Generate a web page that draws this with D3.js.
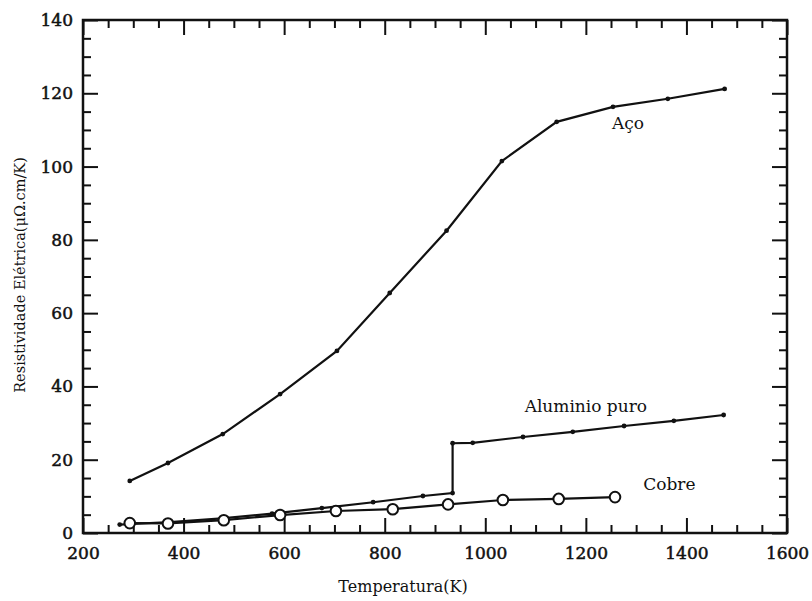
<!DOCTYPE html>
<html><head><meta charset="utf-8">
<script src="https://cdn.jsdelivr.net/npm/d3@7"></script>
<style>body{margin:0;background:#fff}svg{display:block}text{font-family:"DejaVu Serif",serif;fill:#111}</style>
</head><body><svg id="c" width="812" height="601"></svg>
<script>
const xMajor = [200,400,600,800,1000,1200,1400,1600];
const yMajor = [0,20,40,60,80,100,120,140];
const xLabel = "Temperatura(K)";
const yLabel = "Resistividade Elétrica(μΩ.cm/K)";
const acoT = [293,369,478,592,705,810,923,1033,1142,1254,1363,1476];
const acoR = [14.2,19.1,27.0,37.9,49.7,65.5,82.5,101.5,112.2,116.3,118.5,121.2];
const aluT = [273,373,476,576,675,777,876,935,935,975,1075,1174,1276,1375,1474];
const aluR = [2.3,3.0,4.0,5.3,6.8,8.4,10.1,10.9,24.5,24.6,26.2,27.6,29.2,30.6,32.2];
const cobT = [293,369,480,592,703,816,926,1035,1146,1258];
const cobR = [2.7,2.6,3.5,4.9,6.0,6.5,7.8,9.0,9.3,9.8];
const labels = [
  {text:"Aço", t:1284, r:110.2},
  {text:"Aluminio puro", t:1200, r:33.0},
  {text:"Cobre", t:1366, r:11.6}
];

const W=812,H=601,m={l:83,t:20,r:25,b:68};
const svg=d3.select("#c");
const x=d3.scaleLinear().domain([200,1600]).range([m.l,W-m.r]);
const y=d3.scaleLinear().domain([0,140]).range([H-m.b,m.t]);
const xMinor=d3.range(200,1601,50).filter(v=>v%200!==0);
const yMinor=d3.range(0,141,5).filter(v=>v%20!==0);
const bot=H-m.b, rt=W-m.r;

function ax(g, gen){ g.call(gen); g.select(".domain").remove(); g.selectAll("line").attr("stroke","#111").attr("stroke-width",2); }
ax(svg.append("g").attr("transform",`translate(0,${bot})`), d3.axisBottom(x).tickValues(xMajor).tickSize(-15).tickPadding(14).tickFormat(d3.format("d")));
ax(svg.append("g").attr("transform",`translate(0,${bot})`), d3.axisBottom(x).tickValues(xMinor).tickSize(-8).tickFormat(""));
ax(svg.append("g").attr("transform",`translate(0,${m.t})`), d3.axisTop(x).tickValues(xMajor).tickSize(-15).tickFormat(""));
ax(svg.append("g").attr("transform",`translate(0,${m.t})`), d3.axisTop(x).tickValues(xMinor).tickSize(-8).tickFormat(""));
ax(svg.append("g").attr("transform",`translate(${m.l},0)`), d3.axisLeft(y).tickValues(yMajor).tickSize(-15).tickPadding(10).tickFormat(d3.format("d")));
ax(svg.append("g").attr("transform",`translate(${m.l},0)`), d3.axisLeft(y).tickValues(yMinor).tickSize(-8).tickFormat(""));
ax(svg.append("g").attr("transform",`translate(${rt},0)`), d3.axisRight(y).tickValues(yMajor).tickSize(-15).tickFormat(""));
ax(svg.append("g").attr("transform",`translate(${rt},0)`), d3.axisRight(y).tickValues(yMinor).tickSize(-8).tickFormat(""));
svg.selectAll(".tick text").style("font-family","'DejaVu Serif',serif").style("font-size","17px")
  .attr("fill","#111").attr("stroke","#111").attr("stroke-width",0.5);

svg.append("rect").attr("x",m.l).attr("y",m.t).attr("width",rt-m.l).attr("height",bot-m.t)
  .attr("fill","none").attr("stroke","#111").attr("stroke-width",2.5);

const line=d3.line().x(d=>x(d[0])).y(d=>y(d[1]));
function series(T,R){ return T.map((t,i)=>[t,R[i]]); }
const aco=series(acoT,acoR), alu=series(aluT,aluR), cob=series(cobT,cobR);

[aco,alu,cob].forEach(s=>svg.append("path").datum(s).attr("d",line).attr("fill","none").attr("stroke","#111").attr("stroke-width",2.2));
[aco,alu].forEach(s=>svg.append("g").selectAll("circle").data(s).join("circle")
  .attr("cx",d=>x(d[0])).attr("cy",d=>y(d[1])).attr("r",2.4).attr("fill","#111"));
svg.append("g").selectAll("circle").data(cob).join("circle")
  .attr("cx",d=>x(d[0])).attr("cy",d=>y(d[1])).attr("r",5.3).attr("fill","#fff").attr("stroke","#111").attr("stroke-width",2);

svg.append("g").selectAll("text").data(labels).join("text")
  .attr("x",d=>x(d.t)).attr("y",d=>y(d.r)).attr("text-anchor","middle").style("font-size","17px").text(d=>d.text);

svg.append("text").attr("x",(m.l+rt)/2-32).attr("y",592).attr("text-anchor","middle").style("font-size","16px").text(xLabel);
svg.append("text").attr("transform","translate(25,275) rotate(-90)").attr("text-anchor","middle").style("font-size","14.5px").text(yLabel);
</script></body></html>
